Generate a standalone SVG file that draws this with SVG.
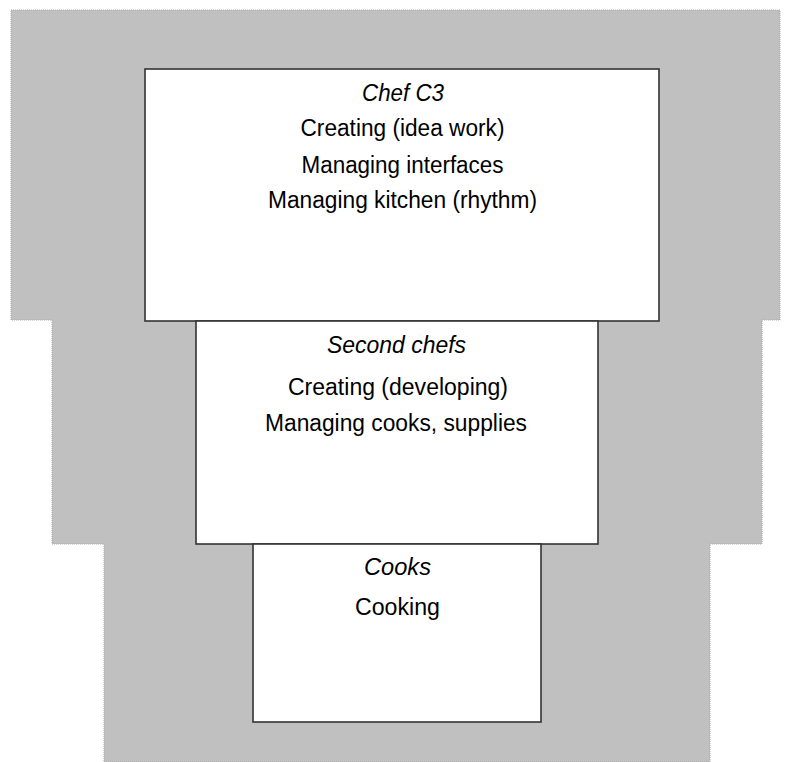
<svg xmlns="http://www.w3.org/2000/svg" width="790" height="762" viewBox="0 0 790 762">
  <style>
    .bg { fill: #c0c0c0; stroke: #a6a6a6; stroke-width: 1; stroke-dasharray: 1 1; }
    .box { fill: #ffffff; stroke: #333333; stroke-width: 1.6; }
    .t { font-family: "Liberation Sans", Arial, sans-serif; font-size: 23px; fill: #000000; text-anchor: middle; }
    .title { font-style: italic; }
  </style>
  <polygon class="bg" points="11,10 780,10 780,320 762,320 762,544 710,544 710,762 104,762 104,544 52,544 52,320 11,320"/>
  <g id="connectors"></g>
  <g id="chef">
    <rect class="box" x="145" y="69" width="514" height="252"/>
    <text class="t title" x="403" y="101" textLength="82" lengthAdjust="spacingAndGlyphs">Chef C3</text>
    <text class="t" x="402.5" y="136" textLength="204" lengthAdjust="spacingAndGlyphs">Creating (idea work)</text>
    <text class="t" x="402.5" y="172.5" textLength="202" lengthAdjust="spacingAndGlyphs">Managing interfaces</text>
    <text class="t" x="402.5" y="208" textLength="269" lengthAdjust="spacingAndGlyphs">Managing kitchen (rhythm)</text>
  </g>
  <g id="second-chefs">
    <rect class="box" x="196" y="321" width="402" height="223"/>
    <text class="t title" x="396.5" y="352.5" textLength="139" lengthAdjust="spacingAndGlyphs">Second chefs</text>
    <text class="t" x="398" y="395" textLength="220" lengthAdjust="spacingAndGlyphs">Creating (developing)</text>
    <text class="t" x="396" y="431" textLength="262" lengthAdjust="spacingAndGlyphs">Managing cooks, supplies</text>
  </g>
  <g id="cooks">
    <rect class="box" x="253" y="544" width="288" height="178"/>
    <text class="t title" x="397.5" y="575" textLength="67" lengthAdjust="spacingAndGlyphs">Cooks</text>
    <text class="t" x="397.5" y="615" textLength="85" lengthAdjust="spacingAndGlyphs">Cooking</text>
  </g>
</svg>
